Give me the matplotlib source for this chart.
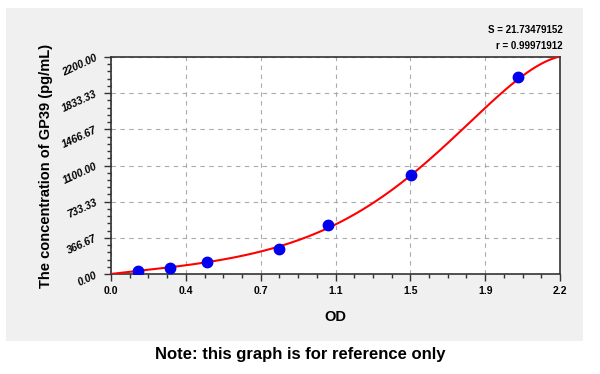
import numpy as np
import matplotlib
matplotlib.use("Agg")
import matplotlib.pyplot as plt
from matplotlib.patches import Rectangle
from matplotlib.ticker import AutoMinorLocator

plt.rcParams["font.family"] = ["Liberation Sans", "DejaVu Sans"]

# standard points
od = [0.132, 0.289, 0.470, 0.823, 1.063, 1.470, 1.994]
conc = [31.25, 62.5, 125, 250, 500, 1000, 2000]

# fitted curve as drawn in the chart
curve_od = [0, 0.134, 0.281, 0.367, 0.469, 0.583, 0.657, 0.735, 0.910, 1.102,
            1.285, 1.470, 1.718, 1.837, 2.0, 2.086, 2.2]
curve_conc = [0, 33, 64, 84, 125, 159, 193, 226, 345, 487,
              733, 1004, 1460, 1680, 1994, 2102, 2205]

x_ticks = [0.0, 2.2 / 6, 2.2 * 2 / 6, 1.1, 2.2 * 4 / 6, 2.2 * 5 / 6, 2.2]
x_labels = ["0.0", "0.4", "0.7", "1.1", "1.5", "1.9", "2.2"]
y_ticks = [0, 366.67, 733.33, 1100, 1466.67, 1833.33, 2200]
y_labels = ["0.00", "366.67", "733.33", "1100.00", "1466.67", "1833.33", "2200.00"]

s_text = "S = 21.73479152"
r_text = "r = 0.99971912"

# smooth the read curve with a polynomial
coef = np.polyfit(curve_od, curve_conc, 6)
xs = np.linspace(0, 2.2, 300)
ys = np.polyval(coef, xs)

fig = plt.figure(figsize=(6, 3.74), dpi=100)
fig.patch.set_facecolor("white")
bg = Rectangle((6 / 600, 1 - 341 / 374), 577 / 600, 333 / 374,
               transform=fig.transFigure, facecolor="#f0f0f0",
               edgecolor="none", zorder=-5)
fig.add_artist(bg)

ax = fig.add_axes([111 / 600, 1 - 274 / 374, 449 / 600, 217 / 374])
ax.set_zorder(1)
ax.set_facecolor("white")
ax.plot(xs, ys, color="red", lw=1.5, zorder=3)
ax.plot(od, conc, "o", color="#0000ee", ms=7.5, zorder=4)

ax.set_xlim(0, 2.2)
ax.set_ylim(0, 2200)
ax.set_xticks(x_ticks)
ax.set_xticklabels(x_labels, fontsize=7.5, fontweight="bold")
ax.set_yticks(y_ticks)
ax.set_yticklabels(y_labels, fontsize=7.5, fontweight="bold", style="italic", rotation=25)
ax.xaxis.set_minor_locator(AutoMinorLocator(4))
ax.yaxis.set_minor_locator(AutoMinorLocator(5))
ax.tick_params(which="major", length=5, width=1, color="#333333", pad=4)
ax.tick_params(which="minor", length=3, width=1, color="#333333")
ax.grid(True, which="major", linestyle=(0, (4, 4)), color="#aaaaaa", lw=0.8)
for sp in ax.spines.values():
    sp.set_color("#333333")
    sp.set_linewidth(1.2)

ax.set_xlabel("OD", fontsize=10.5, fontweight="bold", labelpad=10)
ax.set_ylabel("The concentration of GP39 (pg/mL)", fontsize=10.5, fontweight="bold", labelpad=5)

fig.text(563 / 600, 1 - 30 / 374, s_text, ha="right", va="center", fontsize=7, fontweight="bold")
fig.text(563 / 600, 1 - 46 / 374, r_text, ha="right", va="center", fontsize=7, fontweight="bold")
fig.text(0.5, 1 - 354 / 374, "Note: this graph is for reference only", ha="center", va="center",
         fontsize=12, fontweight="bold")

fig.savefig("out.png", dpi=100)
